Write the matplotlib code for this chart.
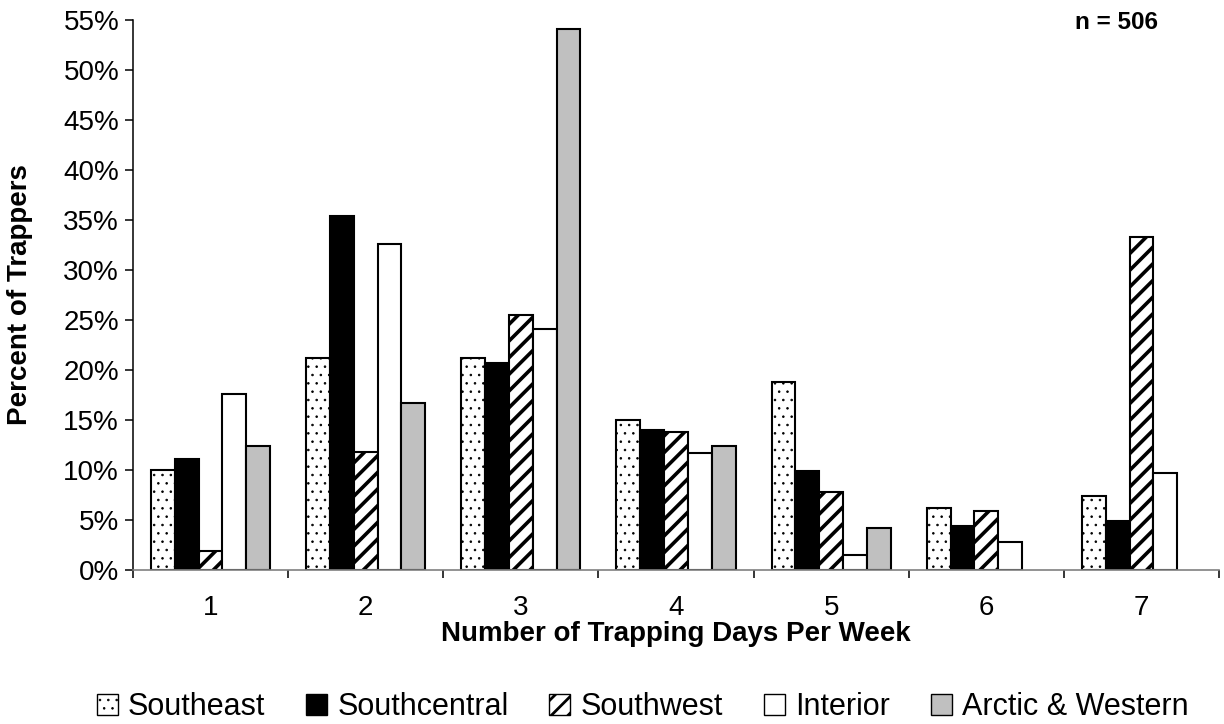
import numpy as np
import matplotlib as mpl
import matplotlib.pyplot as plt
from matplotlib.ticker import FixedLocator, PercentFormatter

plt.rcParams['font.family'] = ['Liberation Sans', 'DejaVu Sans']

days = ['1', '2', '3', '4', '5', '6', '7']
regions = ['Southeast', 'Southcentral', 'Southwest', 'Interior', 'Arctic & Western']
southeast = [10.0, 21.2, 21.2, 15.0, 18.8, 6.2, 7.4]
southcentral = [11.1, 35.4, 20.7, 14.0, 9.9, 4.4, 4.9]
southwest = [1.9, 11.8, 25.5, 13.8, 7.8, 5.9, 33.3]
interior = [17.6, 32.6, 24.1, 11.7, 1.5, 2.8, 9.7]
arctic = [12.4, 16.7, 54.1, 12.4, 4.2, 0.0, 0.0]

series = [southeast, southcentral, southwest, interior, arctic]
faces = ['white', 'black', 'white', 'white', '#c0c0c0']
hatches = ['..', None, '//', None, None]
hatch_lw = [0.6, 1.0, 2.6, 1.0, 1.0]

fig = plt.figure(figsize=(12.24, 7.24), dpi=100)
ax = fig.add_axes([133 / 1224, 154 / 724, 1086 / 1224, 550 / 724])

x = np.arange(len(days))
w = 0.1535
for i, (vals, fc, h) in enumerate(zip(series, faces, hatches)):
    pos = x + (i - 2) * w
    with mpl.rc_context({'hatch.linewidth': hatch_lw[i]}):
        bars = ax.bar(pos, vals, w, color=fc, edgecolor='black', linewidth=1.5,
                      hatch=h, label=regions[i])
        # no outline for empty bars
        for b, v in zip(bars, vals):
            if v == 0:
                b.set_visible(False)

ax.set_xlim(-0.5, len(days) - 0.5)
ax.set_ylim(0, 55)
ax.yaxis.set_major_locator(FixedLocator(np.arange(0, 56, 5)))
ax.yaxis.set_major_formatter(PercentFormatter(decimals=0))
ax.set_xticks(x)
ax.set_xticklabels(days)
ax.xaxis.set_minor_locator(FixedLocator(np.arange(-0.5, len(days), 1)))
ax.tick_params(axis='x', which='major', length=0, labelsize=20, pad=18)
ax.tick_params(axis='x', which='minor', length=6, width=1.1, direction='out')
ax.tick_params(axis='y', which='major', length=6, width=1.1, direction='out', labelsize=20, pad=4)

for s in ['top', 'right']:
    ax.spines[s].set_visible(False)
ax.spines['left'].set_linewidth(1.1)
ax.spines['bottom'].set_linewidth(1.2)
ax.spines['bottom'].set_color('#808080')

ax.set_xlabel('Number of Trapping Days Per Week', fontsize=20, fontweight='bold', labelpad=0)
ax.set_ylabel('Percent of Trappers', fontsize=20, fontweight='bold')
ax.yaxis.set_label_coords(-0.092, 0.5)

fig.text(1158 / 1224, 1 - 11 / 724, 'n = 506', fontsize=17.5, fontweight='bold',
         ha='right', va='top')

leg = fig.legend(loc='center', bbox_to_anchor=(0.525, 1 - 707 / 724), ncol=5, frameon=False,
                 fontsize=22, handlelength=0.69, handleheight=0.69, handletextpad=0.33,
                 columnspacing=1.34, borderaxespad=0, borderpad=0)
for p, lw in zip(leg.get_patches(), hatch_lw):
    p.set_linewidth(1.0)
    if hasattr(p, 'set_hatch_linewidth'):
        p.set_hatch_linewidth(min(lw, 2.0))

fig.savefig('out.png', dpi=100)
